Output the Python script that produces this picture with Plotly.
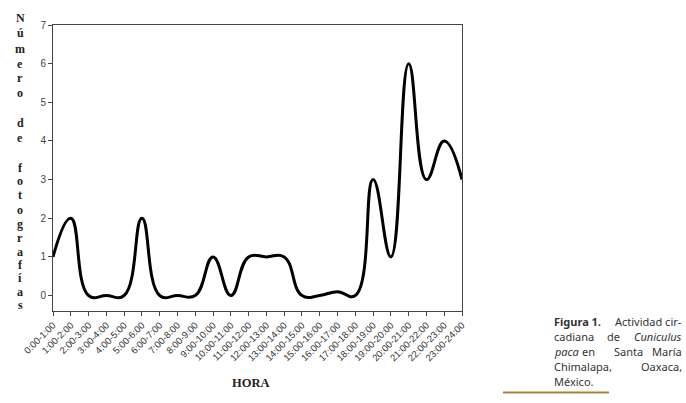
import plotly.graph_objects as go

hours = ["0:00-1:00", "1:00-2:00", "2:00-3:00", "3:00-4:00", "4:00-5:00", "5:00-6:00",
         "6:00-7:00", "7:00-8:00", "8:00-9:00", "9:00-10:00", "10:00-11:00", "11:00-12:00",
         "12:00-13:00", "13:00-14:00", "14:00-15:00", "15:00-16:00", "16:00-17:00", "17:00-18:00",
         "18:00-19:00", "19:00-20:00", "20:00-21:00", "21:00-22:00", "22:00-23:00", "23:00-24:00"]
fotos = [1, 2, 0, 0, 0, 2, 0, 0, 0, 1, 0, 1, 1, 1, 0, 0, 0.1, 0, 3, 1, 6, 3, 4, 3]
yticks = [0, 1, 2, 3, 4, 5, 6, 7]
ytitle = "Número de fotografías"

W, H = 686, 403
L, R, T, B = 53, 462, 25, 311

fig = go.Figure()
fig.add_trace(go.Scatter(
    x=hours, y=fotos, mode="lines",
    line=dict(color="black", width=3, shape="spline", smoothing=1.3),
    hoverinfo="skip", showlegend=False))

fig.update_layout(
    width=W, height=H,
    margin=dict(l=L, r=W - R, t=T, b=H - B, pad=0),
    paper_bgcolor="white", plot_bgcolor="white",
    font=dict(family="Liberation Sans, Arial", color="#333"),
    xaxis=dict(type="category", range=[0, len(hours) - 1], tickangle=-45,
               showline=True, linecolor="#444", linewidth=1, mirror=True,
               ticks="outside", ticklen=4, tickcolor="#444", tickwidth=1,
               showgrid=False, zeroline=False, automargin=False,
               tickfont=dict(size=9.5, color="#333", family="Liberation Sans, Arial")),
    yaxis=dict(range=[-0.4, 7], tickvals=yticks,
               showline=True, linecolor="#444", linewidth=1, mirror=True,
               ticks="outside", ticklen=4, tickcolor="#444", tickwidth=1,
               showgrid=False, zeroline=False, automargin=False,
               tickfont=dict(size=10, color="#444", family="Liberation Sans, Arial")),
)

def px(xp, yp):
    return (xp - L) / (R - L), (B - yp) / (B - T)

# stacked vertical y-axis title, one character per line
char_y = [18, 33, 49, 64, 78, 93, None, 123, 137.5, None, 168, 181, 195, 210, 224, 238, 252, 265, 278, 292, 305]
title_font = dict(family="Liberation Serif, Times New Roman", size=12, color="#222")
for ch, yy in zip(ytitle, char_y):
    if ch == " " or yy is None:
        continue
    ax, ay = px(20, yy)
    fig.add_annotation(xref="paper", yref="paper", x=ax, y=ay, xanchor="center",
                       yanchor="middle", showarrow=False, text="<b>" + ch + "</b>",
                       font=title_font, borderpad=0)

# x-axis title
ax, ay = px(251, 383)
fig.add_annotation(
    xref="paper", yref="paper", x=ax, y=ay,
    xanchor="center", yanchor="middle", showarrow=False,
    text="<b>HORA</b>",
    font=dict(family="Liberation Serif, Times New Roman", size=12.5, color="#222"))

cap_font = dict(family="Noto Sans, Open Sans", size=11, color="#333")
caption = [
    (321.5, [("<b>Figura 1.</b>", 553, "left"), ("Actividad cir-", 683, "right")]),
    (336.5, [("cadiana", 553, "left"), ("de", 613.5, "center"), ("<i>Cuniculus</i>", 683, "right")]),
    (351.5, [("<i>paca</i>", 553, "left"), ("en", 588.5, "center"), ("Santa", 628.5, "center"), ("María", 683, "right")]),
    (366.5, [("Chimalapa,", 553, "left"), ("Oaxaca,", 683, "right")]),
    (381.5, [("México.", 553, "left")]),
]
for yline, words in caption:
    for txt, xw, anc in words:
        ax, ay = px(xw, yline)
        fig.add_annotation(xref="paper", yref="paper", x=ax, y=ay, xanchor=anc,
                           yanchor="middle", showarrow=False, text=txt, font=cap_font,
                           borderpad=0)

# gold rule under caption
x0, y0 = px(503, 392.5)
x1, _ = px(609, 392.5)
fig.add_shape(type="line", xref="paper", yref="paper", x0=x0, x1=x1, y0=y0, y1=y0,
              line=dict(color="#A3843F", width=2))

fig.write_html("out.html", config={"displayModeBar": False},
               post_script="document.body.style.margin='0';document.body.style.padding='0';")
